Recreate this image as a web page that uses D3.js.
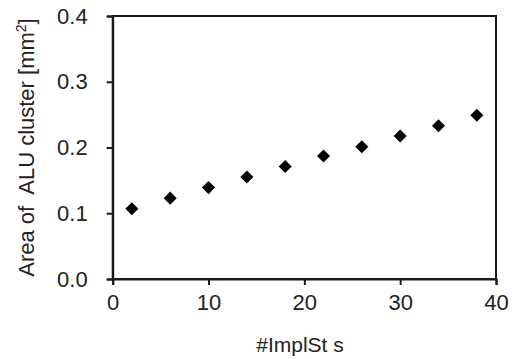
<!DOCTYPE html>
<html><head><meta charset="utf-8">
<script src="https://cdn.jsdelivr.net/npm/d3@7"></script>
<style>html,body{margin:0;padding:0;background:#fff;}svg{display:block;}</style>
</head><body>
<script>
const xValues = [2, 6, 10, 14, 18, 22, 26, 30, 34, 38];
const yValues = [0.107, 0.123, 0.139, 0.155, 0.171, 0.187, 0.201, 0.2175, 0.233, 0.249];
const xTicks = [0, 10, 20, 30, 40];
const yTicks = [0.0, 0.1, 0.2, 0.3, 0.4];
const xLabel = "#ImplSt s";
const yLabelMain = "Area of  ALU cluster [mm";
const yLabelSup = "2";
const yLabelEnd = "]";

const W = 516, H = 359;
const m = {left: 112.7, right: 20, top: 16, bottom: 80};
const svg = d3.select("body").append("svg").attr("width", W).attr("height", H);
const x = d3.scaleLinear().domain([0, 40]).range([m.left, W - m.right]);
const y = d3.scaleLinear().domain([0, 0.4]).range([H - m.bottom, m.top]);
const font = "Liberation Sans, Arial, sans-serif";
const col = "#1a1a1a";

svg.append("rect").attr("x", x(0)).attr("y", y(0.4)).attr("width", x(40) - x(0)).attr("height", y(0) - y(0.4))
  .attr("fill", "none").attr("stroke", col).attr("stroke-width", 2);

const xa = svg.append("g").attr("transform", `translate(0,${y(0)})`)
  .call(d3.axisBottom(x).tickValues(xTicks).tickFormat(d3.format("d")).tickSize(6).tickPadding(9));
const ya = svg.append("g").attr("transform", `translate(${x(0)},0)`)
  .call(d3.axisLeft(y).tickValues(yTicks).tickFormat(d3.format(".1f")).tickSize(6).tickPadding(19));
[xa, ya].forEach(g => {
  g.select(".domain").attr("stroke", col).attr("stroke-width", 2);
  g.selectAll(".tick line").attr("stroke", col).attr("stroke-width", 2);
  g.selectAll(".tick text").attr("fill", "#222").style("font-family", font).style("font-size", "22px");
});

svg.append("g").selectAll("path").data(xValues).join("path")
  .attr("d", d3.symbol(d3.symbolSquare, 85)())
  .attr("transform", (d, i) => `translate(${x(d)},${y(yValues[i])}) rotate(45)`)
  .attr("fill", "#000");

svg.append("text").attr("x", 300).attr("y", 352).attr("text-anchor", "middle")
  .style("font-family", font).style("font-size", "21px").attr("fill", "#222").text(xLabel);
const yl = svg.append("text").attr("transform", `translate(34,${(y(0)+y(0.4))/2}) rotate(-90)`).attr("text-anchor", "middle")
  .style("font-family", font).style("font-size", "22px").style("white-space", "pre").attr("fill", "#222");
yl.append("tspan").text(yLabelMain);
yl.append("tspan").attr("dy", -8).style("font-size", "14px").text(yLabelSup);
yl.append("tspan").attr("dy", 8).text(yLabelEnd);
</script>
</body></html>
